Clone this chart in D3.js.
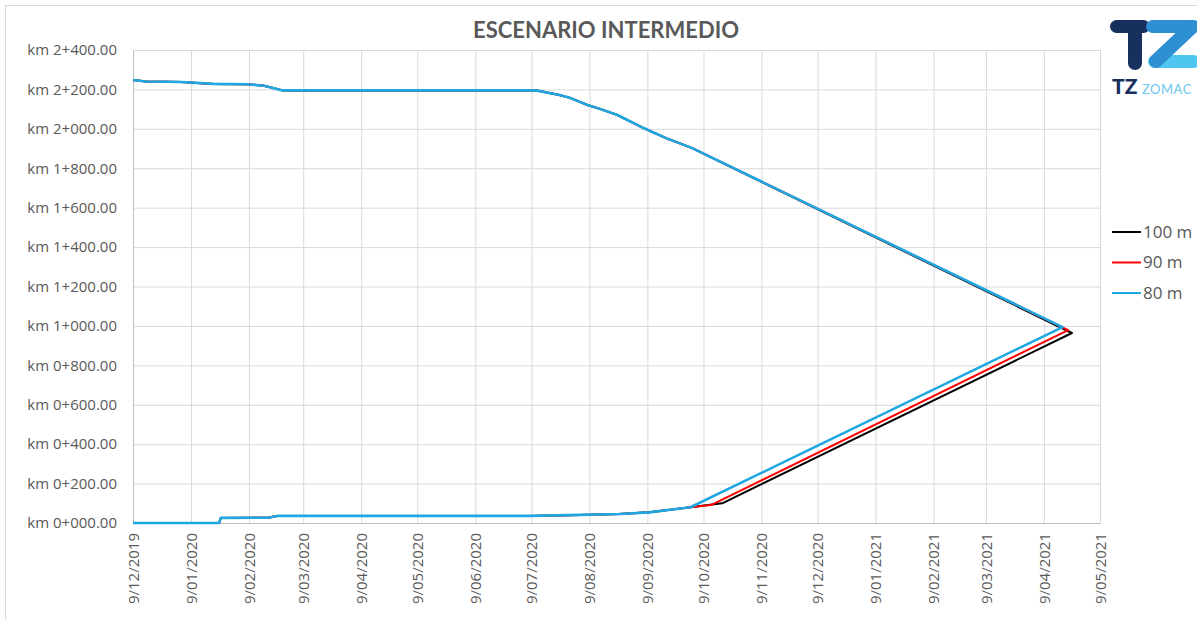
<!DOCTYPE html>
<html>
<head>
<meta charset="utf-8">
<script src="https://cdnjs.cloudflare.com/ajax/libs/d3/7.8.5/d3.min.js"></script>
<style>
  body { margin: 0; background: #fff; }
  .tick text { fill: #595959; font-family: "Open Sans", sans-serif; font-size: 15px; }
  .grid line { stroke: #d9d9d9; }
  .grid path { stroke: none; }
</style>
</head>
<body>
<div id="chart"></div>
<script>
// shared descending branch (other end of the tunnel)
const topDates = ['2019-12-09', '2019-12-16', '2020-01-04', '2020-01-21', '2020-02-08', '2020-02-17',
                  '2020-02-27', '2020-07-08', '2020-07-12', '2020-07-24', '2020-07-30', '2020-08-08',
                  '2020-08-15', '2020-08-24', '2020-09-07', '2020-09-19', '2020-10-03'];
const topKm = [2248, 2240, 2238, 2228, 2226, 2219, 2195, 2195, 2194, 2172, 2156, 2121,
               2100, 2070, 2004, 1953, 1902];

// shared ascending branch
const bottomDates = ['2019-12-09', '2020-01-24', '2020-01-25', '2020-02-19', '2020-02-24',
                     '2020-07-08', '2020-08-04', '2020-08-25', '2020-09-10', '2020-10-02'];
const bottomKm = [0, 0, 26, 27, 36, 36, 41, 46, 54, 80];

// per series: where it leaves the shared branch and where both ends meet
const seriesNames = ['100 m', '90 m', '80 m'];
const kinkDates = ['2020-10-19', '2020-10-13', '2020-10-02'];
const kinkKm = [100, 91, 80];
const meetDates = ['2021-04-24', '2021-04-22', '2021-04-19'];
const meetKm = [964, 979, 994];

const yTicks = [0, 200, 400, 600, 800, 1000, 1200, 1400, 1600, 1800, 2000, 2200, 2400];
const xStart = '2019-12-09';
const xEnd = '2021-05-09';

const colors = ['#000000', '#ff0000', '#1fa7e1'];
const widths = [2, 2, 2.6];

const width = 1197;
const height = 620;
const margin = {left: 133, right: 97, top: 50, bottom: 97};
const parse = d3.timeParse('%Y-%m-%d');

const svg = d3.select('#chart')
            .append('svg')
            .attr('width', width)
            .attr('height', height);

svg.append('path')
    .attr('d', 'M5.5,' + height + 'V5.5H' + width)
    .attr('fill', 'none')
    .attr('stroke', '#d9d9d9');

const xScale = d3.scaleTime()
            .domain([parse(xStart), parse(xEnd)])
            .range([margin.left, width - margin.right]);

const yScale = d3.scaleLinear()
            .domain([0, 2400])
            .range([height - margin.bottom, margin.top]);

const monthTicks = d3.timeMonth.range(d3.timeMonth.floor(parse(xStart)), d3.timeDay.offset(parse(xEnd), 1))
            .map(d => new Date(d.getFullYear(), d.getMonth(), 9));

const kmFormat = v => 'km ' + Math.floor(v / 1000) + '+' + d3.format('03d')(v % 1000) + '.00';

svg.append('g')
    .attr('class', 'grid')
    .attr('transform', 'translate(0,' + (height - margin.bottom) + ')')
    .call(d3.axisBottom(xScale).tickValues(monthTicks)
        .tickSize(-(height - margin.top - margin.bottom)).tickFormat(''));

svg.append('g')
    .attr('class', 'grid')
    .attr('transform', 'translate(' + margin.left + ',0)')
    .call(d3.axisLeft(yScale).tickValues(yTicks)
        .tickSize(-(width - margin.left - margin.right)).tickFormat(''));

const xAxis = svg.append('g')
    .attr('transform', 'translate(0,' + (height - margin.bottom) + ')')
    .call(d3.axisBottom(xScale).tickValues(monthTicks).tickSize(0)
        .tickFormat(d => d.getDate() + '/' + d3.timeFormat('%m/%Y')(d)));
xAxis.select('.domain').attr('stroke', '#bfbfbf');
xAxis.selectAll('text')
    .attr('transform', 'rotate(-90)')
    .attr('text-anchor', 'end')
    .attr('x', -10)
    .attr('y', 0)
    .attr('dy', '0.35em');

const yAxis = svg.append('g')
    .attr('transform', 'translate(' + margin.left + ',0)')
    .call(d3.axisLeft(yScale).tickValues(yTicks).tickSize(0).tickPadding(16).tickFormat(kmFormat));
yAxis.select('.domain').attr('stroke', '#bfbfbf');

const line = d3.line()
            .x(d => xScale(d.date))
            .y(d => yScale(d.km));

const plotSeries = (i) => {
    let pts = bottomDates.map((d, j) => ({date: parse(d), km: bottomKm[j]}))
        .filter(p => p.date < parse(kinkDates[i]));
    pts.push({date: parse(kinkDates[i]), km: kinkKm[i]});
    pts.push({date: parse(meetDates[i]), km: meetKm[i]});
    let back = topDates.map((d, j) => ({date: parse(d), km: topKm[j]})).reverse();
    pts = pts.concat(back);

    svg.append('path')
        .datum(pts)
        .attr('d', line)
        .attr('fill', 'none')
        .attr('stroke', colors[i])
        .attr('stroke-width', widths[i])
        .attr('stroke-linejoin', 'round');
};

seriesNames.forEach((s, i) => plotSeries(i));

svg.append('text')
    .attr('x', 606)
    .attr('y', 38)
    .attr('text-anchor', 'middle')
    .attr('font-family', 'Lato, sans-serif')
    .attr('font-weight', 'bold')
    .attr('font-size', 22)
    .attr('fill', '#595959')
    .text('ESCENARIO INTERMEDIO');

const legend = svg.append('g')
    .selectAll('g')
    .data(seriesNames)
    .enter()
    .append('g')
    .attr('transform', (d, i) => 'translate(1112,' + (232 + i * 30.5) + ')');
legend.append('line')
    .attr('x1', 0).attr('x2', 29)
    .attr('stroke', (d, i) => colors[i])
    .attr('stroke-width', 2);
legend.append('text')
    .attr('x', 31)
    .attr('dy', '0.35em')
    .attr('font-family', '"Open Sans", sans-serif')
    .attr('font-size', 17)
    .attr('fill', '#595959')
    .text(d => d);

// logo
const logo = svg.append('g');
logo.append('rect').attr('x', 1110).attr('y', 20).attr('width', 40).attr('height', 13).attr('rx', 6.5).attr('fill', '#17305e');
logo.append('rect').attr('x', 1128).attr('y', 20).attr('width', 14).attr('height', 50).attr('rx', 7).attr('fill', '#17305e');
logo.append('rect').attr('x', 1148).attr('y', 55).attr('width', 52).attr('height', 13).attr('rx', 6.5).attr('fill', '#4fc6f0');
logo.append('rect').attr('x', 1146).attr('y', 20).attr('width', 54).attr('height', 13).attr('rx', 6.5).attr('fill', '#2f8fd3');
logo.append('line').attr('x1', 1192).attr('y1', 27).attr('x2', 1156).attr('y2', 61)
    .attr('stroke', '#2f8fd3').attr('stroke-width', 14).attr('stroke-linecap', 'round');
logo.append('text').attr('x', 1112).attr('y', 94)
    .attr('font-family', 'Lato, sans-serif').attr('font-weight', 900).attr('font-size', 21)
    .attr('fill', '#17305e').text('TZ');
logo.append('text').attr('x', 1142).attr('y', 94)
    .attr('font-family', 'Lato, sans-serif').attr('font-size', 13).attr('letter-spacing', 0.5)
    .attr('fill', '#6cc6ee').text('ZOMAC');
</script>
</body>
</html>
